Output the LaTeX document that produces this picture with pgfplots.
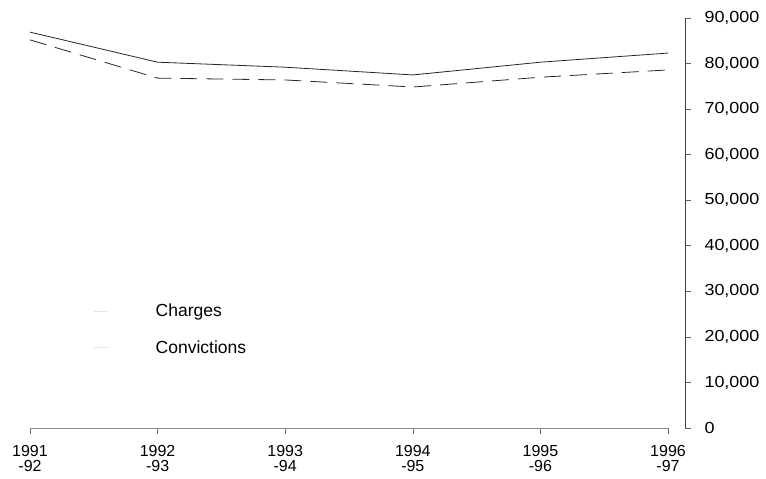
\documentclass[border=0pt]{standalone}
\usepackage{fontspec}
\setmainfont{Liberation Sans}
\newfontfamily\widefont[FakeStretch=1.12]{Liberation Sans}
\usepackage{pgfplots}
\pgfplotsset{compat=1.18}

\begin{document}
\begin{tikzpicture}
\begin{axis}[
    scale only axis,
    width=655pt, height=410pt,
    xmin=0, xmax=5.133,
    ymin=0, ymax=90000,
    axis x line=bottom,
    axis y line=right,
    x axis line style={draw=none, -},
    y axis line style={draw=black!75, line width=0.7pt, -},
    tick align=outside,
    major tick length=6pt,
    xtick={0,1,2,3,4,5},
    xticklabels={1991\\-92, 1992\\-93, 1993\\-94, 1994\\-95, 1995\\-96, 1996\\-97},
    xticklabel style={align=center, font=\fontsize{16}{15}\selectfont, yshift=-8pt},
    x tick style={draw=black!60, line width=0.6pt},
    ytick={0,10000,...,90000},
    y tick style={draw=black!60, line width=0.6pt},
    scaled y ticks=false,
    yticklabel style={font=\widefont\fontsize{16}{18}\selectfont, anchor=west, xshift=10pt},
    /pgf/number format/.cd, fixed, 1000 sep={,}, assume math mode=true,
    /pgfplots/.cd,
    clip=false,
    legend style={draw=none, fill=none, at={(0.092,0.312)}, anchor=north west,
        font=\fontsize{17.5}{21}\selectfont, row sep=18pt},
    legend cell align=left,
    legend image code/.code={
        \path[draw=none] (0pt,0pt) -- (60pt,0pt);
        \draw[#1, draw=black!10, line width=0.5pt] (0pt,0pt) -- (14pt,0pt);},
]
\draw[black!45, line width=0.7pt] (axis cs:0,0) -- (axis cs:5,0);

\addplot[black!85, line width=0.8pt] coordinates {
    (0,86900) (1,80300) (2,79200) (3,77500) (4,80300) (5,82300)};
\addplot[black!85, line width=0.8pt, dash pattern=on 17pt off 9pt] coordinates {
    (0,85200) (1,76800) (2,76400) (3,74850) (4,77000) (5,78600)};
\legend{Charges, Convictions}
\end{axis}
\path ([shift={(-30pt,-51pt)}]current axis.south west) rectangle ([shift={(736pt,428pt)}]current axis.south west);
\end{tikzpicture}
\end{document}
